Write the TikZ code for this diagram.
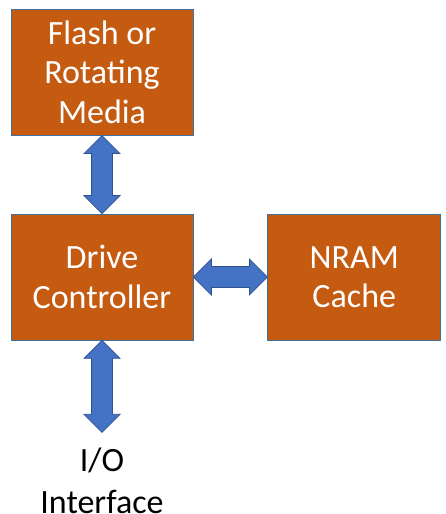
\documentclass[tikz,border=0pt]{standalone}
\usepackage{fontspec}
\setmainfont{Carlito}
\usetikzlibrary{positioning,calc}
\definecolor{boxfill}{HTML}{C55A11}
\definecolor{boxedge}{HTML}{41719C}
\definecolor{arrowfill}{HTML}{4472C4}
\definecolor{arrowedge}{HTML}{2F528F}
\tikzset{
  block/.style={draw=boxedge, fill=boxfill, line width=0.75pt, text=white,
    align=center, font=\fontsize{34}{39.5}\selectfont,
    minimum height=126pt, inner sep=0pt},
  caption/.style={align=center, font=\fontsize{34}{42.5}\selectfont,
    inner xsep=0pt, inner ysep=15pt},
  % double block arrow between two points
  dblarrow/.style={draw=arrowedge, fill=arrowfill, line width=0.75pt,
    to path={let \p1=($(\tikztotarget)-(\tikztostart)$),
      \n1={veclen(\x1,\y1)}, \n2={atan2(\y1,\x1)} in
      {[shift={(\tikztostart)}, rotate=\n2]
      (0,0) -- (18,18) -- (18,10.5) -- (\n1-18,10.5) -- (\n1-18,18)
      -- (\n1,0) -- (\n1-18,-18) -- (\n1-18,-10.5) -- (18,-10.5)
      -- (18,-18) -- cycle}}}
}
\begin{document}
\begin{tikzpicture}[x=1pt,y=1pt]
  \useasboundingbox (0,0) rectangle (446,514);
  \node[block, minimum width=182pt] (ctrl) at (102,237) {Drive\\Controller};
  \node[block, minimum width=182pt, above=78pt of ctrl] (media) {Flash or\\Rotating\\Media};
  \node[block, minimum width=173pt, right=74pt of ctrl] (nram) {NRAM\\Cache};
  \node[caption, below=92pt of ctrl] (io) {I/O\\Interface};
  \draw[dblarrow] (media.south) to (ctrl.north);
  \draw[dblarrow] (ctrl.east) to (nram.west);
  \draw[dblarrow] (ctrl.south) to (io.north);
\end{tikzpicture}
\end{document}
